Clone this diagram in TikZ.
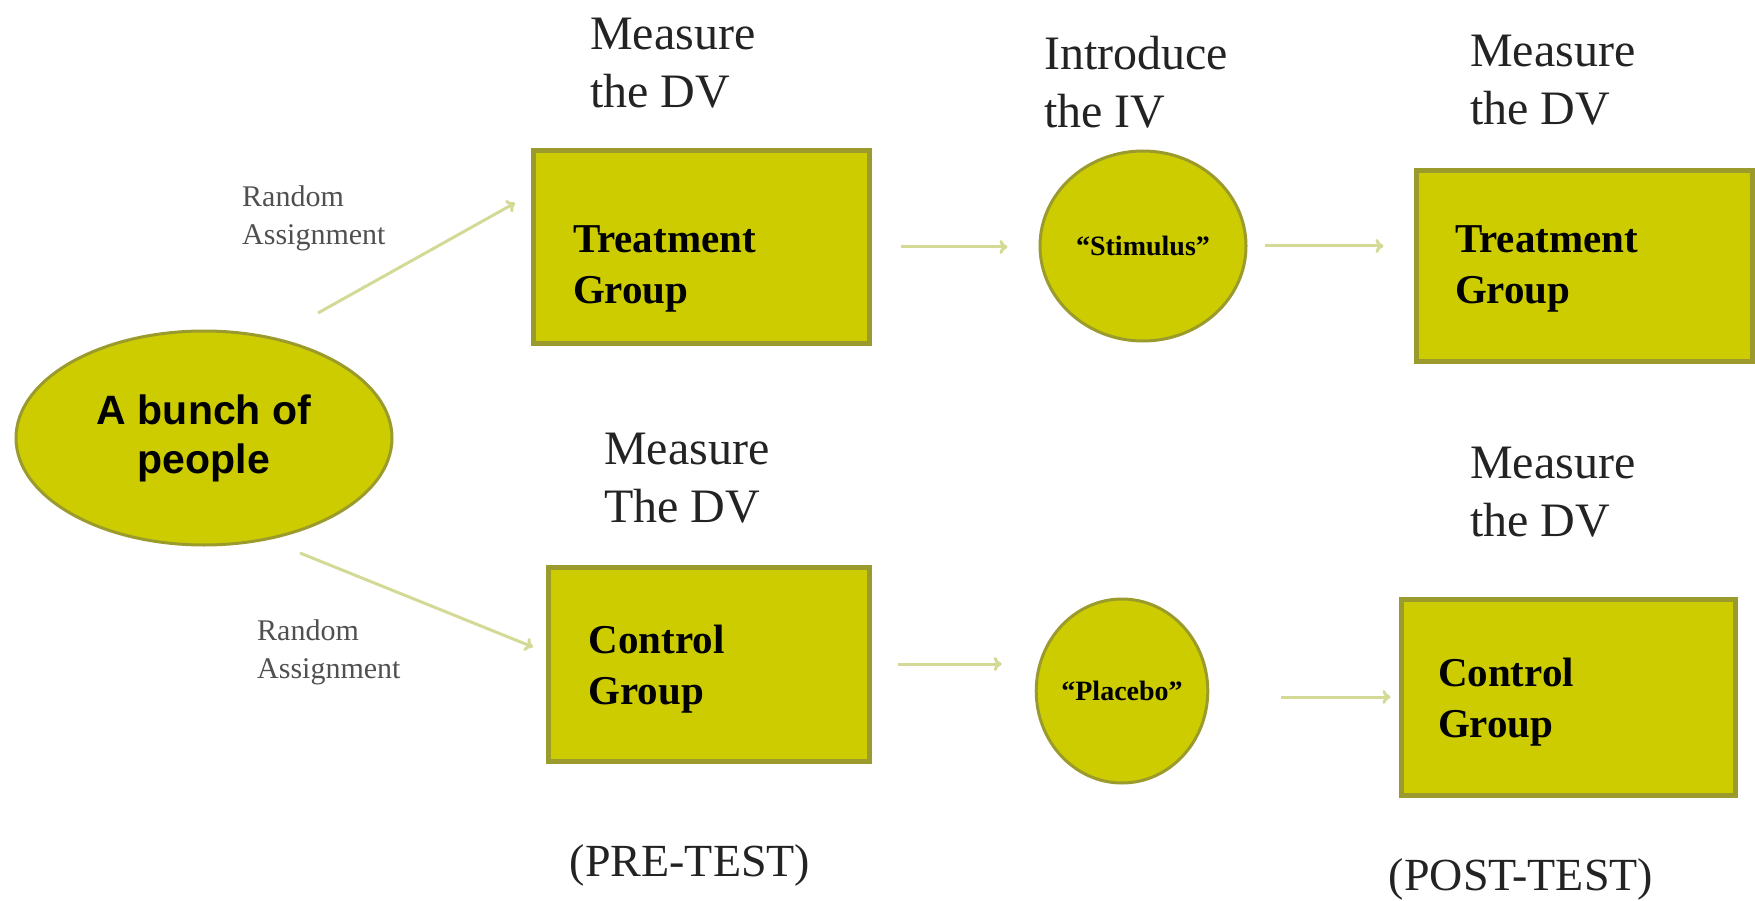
\documentclass[tikz,border=0pt]{standalone}
\usepackage{fontspec}
\setmainfont{Liberation Serif}
\newfontfamily\sansbold{Liberation Sans}
\usetikzlibrary{shapes.geometric,arrows.meta}
\definecolor{boxfill}{RGB}{204,204,0}
\definecolor{boxline}{RGB}{155,155,45}
\definecolor{arrowcol}{RGB}{212,218,150}
\definecolor{labelgray}{RGB}{35,35,35}
\definecolor{assigngray}{RGB}{80,80,80}
\begin{document}
\begin{tikzpicture}[x=1pt,y=-1pt,>={To[length=8pt,width=14pt]},
    groupbox/.style={draw=boxline,line width=5pt,fill=boxfill,minimum width=336pt,minimum height=192pt,inner sep=0pt},
    grouptext/.style={font=\fontsize{41}{51}\selectfont\bfseries,align=left,text width=256pt,inner sep=0pt},
    ivoval/.style={ellipse,draw=boxline,line width=3pt,fill=boxfill,inner sep=0pt,font=\fontsize{28}{32}\selectfont\bfseries},
    phase/.style={font=\fontsize{48}{58}\selectfont,align=left,text=labelgray,inner sep=0pt,anchor=west},
    assign/.style={font=\fontsize{30}{38}\selectfont,align=left,text=assigngray,inner sep=0pt,anchor=west},
    arr/.style={->,draw=arrowcol,line width=3pt}]
    \useasboundingbox (0,0) rectangle (1755,901);
    % people and the two groups
    \node[ellipse,draw=boxline,line width=3pt,fill=boxfill,minimum width=376pt,minimum height=214pt,inner sep=0pt,align=center,
        font=\sansbold\fontsize{41}{49}\selectfont\bfseries](bunch)at(204,438){A bunch of\\people};
    \node[groupbox,label={[grouptext,yshift=-22pt]center:Treatment\\Group}](tg1)at(701,247){};
    \node[groupbox,minimum width=321pt,minimum height=194pt,label={[grouptext,text width=241pt,yshift=-5pt]center:Control\\Group}](cg1)at(709,664){};
    \node[ivoval,minimum width=206pt,minimum height=190pt](stim)at(1143,246){“Stimulus”};
    \node[ivoval,minimum width=164pt,minimum height=184pt](plac)at(1122,691){“Placebo”};
    \node[groupbox,minimum height=191pt,label={[grouptext,text width=258pt,yshift=-3pt]center:Treatment\\Group}](tg2)at(1584,266){};
    \node[groupbox,minimum width=334pt,minimum height=196pt,label={[grouptext,text width=260pt,yshift=-5pt]center:Control\\Group}](cg2)at(1568,697){};
    % texts
    \node[phase](mtl)at(590,63){Measure\\the DV};
    \node[phase](intro)at(1044,82){Introduce\\the IV};
    \node[phase](mtr)at(1470,80){Measure\\the DV};
    \node[phase](mbl)at(604,478){Measure\\The DV};
    \node[phase](mbr)at(1470,492){Measure\\the DV};
    \node[assign](ra1)at(242,218){Random\\Assignment};
    \node[assign](ra2)at(257,652){Random\\Assignment};
    \node[font=\fontsize{46}{54}\selectfont,text=labelgray,inner sep=0pt](pre)at(690,865){(PRE-TEST)};
    \node[font=\fontsize{46}{54}\selectfont,text=labelgray,inner sep=0pt](post)at(1521,879){(POST-TEST)};
    % arrows
    \coordinate(upfrom)at(318,313);
    \coordinate(upto)at(515,203);
    \coordinate(downfrom)at(300,553);
    \coordinate(downto)at(533,647);
    \draw[arr](upfrom)--(upto);
    \draw[arr](downfrom)--(downto);
    \draw[arr,shorten <=29pt,shorten >=31pt](tg1.east)--(tg1.east -| stim.west);
    \draw[arr,shorten <=17pt,shorten >=30pt](stim.east)--(stim.east -| tg2.west);
    \draw[arr,shorten <=26pt,shorten >=33pt](cg1.east)--(cg1.east -| plac.west);
    \draw[arr,shorten <=72pt,shorten >=8pt](cg2.west -| plac.east)--(cg2.west);
\end{tikzpicture}
\end{document}
